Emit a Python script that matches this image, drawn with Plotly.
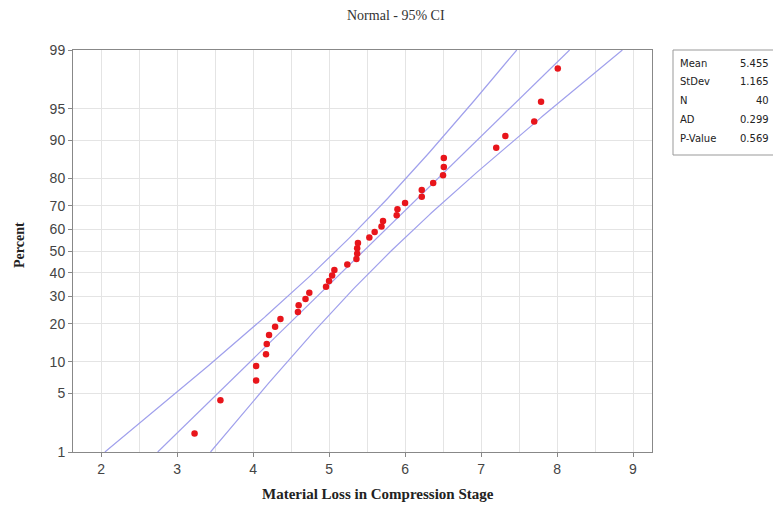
import plotly.graph_objects as go
from statistics import NormalDist
import math

# ---- data ----
material_loss = [3.23, 3.57, 4.04, 4.04, 4.17, 4.18, 4.21, 4.29, 4.36, 4.59,
                 4.60, 4.69, 4.74, 4.96, 5.00, 5.04, 5.07, 5.24, 5.36, 5.37,
                 5.37, 5.38, 5.53, 5.60, 5.69, 5.71, 5.89, 5.90, 6.00, 6.22,
                 6.22, 6.37, 6.50, 6.51, 6.51, 7.20, 7.32, 7.70, 7.79, 8.01]
percent = [1.73, 4.21, 6.68, 9.16, 11.63, 14.11, 16.58, 19.06, 21.53, 24.01,
           26.49, 28.96, 31.44, 33.91, 36.39, 38.86, 41.34, 43.81, 46.29, 48.76,
           51.24, 53.71, 56.19, 58.66, 61.14, 63.61, 66.09, 68.56, 71.04, 73.51,
           75.99, 78.47, 80.94, 83.42, 85.89, 88.37, 90.84, 93.32, 95.79, 98.27]
tick_percents = [1, 5, 10, 20, 30, 40, 50, 60, 70, 80, 90, 95, 99]
x_ticks = [2, 3, 4, 5, 6, 7, 8, 9]
stat_labels = ["Mean", "StDev", "N", "AD", "P-Value"]
stat_values = ["5.455", "1.165", "40", "0.299", "0.569"]
mean_val = 5.455
sd_val = 1.165
n_val = 40

nd = NormalDist()
def z(p):
    return nd.inv_cdf(p / 100.0)

y_pts = [z(p) for p in percent]
z_lo, z_hi = z(1), z(99)

# fitted line and 95% CI for percentiles
zs = [z_lo + (z_hi - z_lo) * k / 200 for k in range(201)]
fit = [mean_val + zz * sd_val for zz in zs]
half = [1.96 * sd_val * math.sqrt(1 / n_val + zz * zz / (2 * n_val)) for zz in zs]
lower = [f - h for f, h in zip(fit, half)]
upper = [f + h for f, h in zip(fit, half)]

line_col = "#a0a0ec"
fig = go.Figure()
for xs in (upper, fit, lower):
    fig.add_trace(go.Scatter(x=xs, y=zs, mode="lines",
                             line=dict(color=line_col, width=1.2),
                             hoverinfo="skip", showlegend=False))
fig.add_trace(go.Scatter(x=material_loss, y=y_pts, mode="markers",
                         marker=dict(color="#e8151b", size=6.5),
                         showlegend=False, cliponaxis=False))

tick_font = dict(family="Liberation Sans, Arial, sans-serif", size=14, color="#444")
fig.update_xaxes(range=[1.63, 9.25], tickvals=x_ticks, ticks="outside", ticklen=4,
                 tickcolor="#888", showline=True, linecolor="#888", linewidth=1,
                 mirror=True, showgrid=True, gridcolor="#e4e4e4", gridwidth=1,
                 minor=dict(dtick=0.5, tick0=0, showgrid=True, gridcolor="#e4e4e4"),
                 tickfont=tick_font, zeroline=False)
fig.update_yaxes(range=[z_lo, z_hi], tickvals=[z(p) for p in tick_percents],
                 ticktext=[str(p) for p in tick_percents], ticks="outside", ticklen=4,
                 tickcolor="#888", showline=True, linecolor="#888", linewidth=1,
                 mirror=True, showgrid=True, gridcolor="#e4e4e4",
                 tickfont=tick_font, zeroline=False)

# page offset (body margin) compensation
O = 8
W, H = 781 - O, 508 - O
L, T = 73 - O, 50 - O
R = W - (652 - O)
B = H - (452 - O)
pw, ph = W - L - R, H - T - B

def px(xp):
    return (xp - O - L) / pw
def py(yp):
    return (H - B - (yp - O)) / ph

annos = []
annos.append(dict(text="Normal - 95% CI", xref="paper", yref="paper",
                  x=px(396), y=py(15), showarrow=False, xanchor="center", yanchor="middle",
                  font=dict(family="Liberation Serif, Times New Roman, serif", size=14, color="#333")))
annos.append(dict(text="<b>Material Loss in Compression Stage</b>", xref="paper", yref="paper",
                  x=px(378), y=py(494), showarrow=False, xanchor="center", yanchor="middle",
                  font=dict(family="Liberation Serif, Times New Roman, serif", size=15, color="#222")))
annos.append(dict(text="<b>Percent</b>", xref="paper", yref="paper", textangle=-90,
                  x=px(20), y=py(245), showarrow=False, xanchor="center", yanchor="middle",
                  font=dict(family="Liberation Serif, Times New Roman, serif", size=14, color="#222")))
for i, (lab, val) in enumerate(zip(stat_labels, stat_values)):
    yy = 63 + i * 18.8
    annos.append(dict(text=lab, xref="paper", yref="paper", x=px(678), y=py(yy),
                      showarrow=False, xanchor="left", yanchor="middle",
                      font=dict(family="DejaVu Sans, sans-serif", size=10, color="#222")))
    annos.append(dict(text=val, xref="paper", yref="paper", x=px(771), y=py(yy),
                      showarrow=False, xanchor="right", yanchor="middle",
                      font=dict(family="DejaVu Sans, sans-serif", size=10, color="#222")))

fig.update_layout(
    width=W, height=H, margin=dict(l=L, r=R, t=T, b=B),
    plot_bgcolor="white", paper_bgcolor="white",
    annotations=annos,
    shapes=[dict(type="rect", xref="paper", yref="paper",
                 x0=px(673), x1=px(790), y0=py(155), y1=py(50),
                 line=dict(color="#999", width=1), fillcolor="white", layer="below")],
)
fig.write_html("out.html")
